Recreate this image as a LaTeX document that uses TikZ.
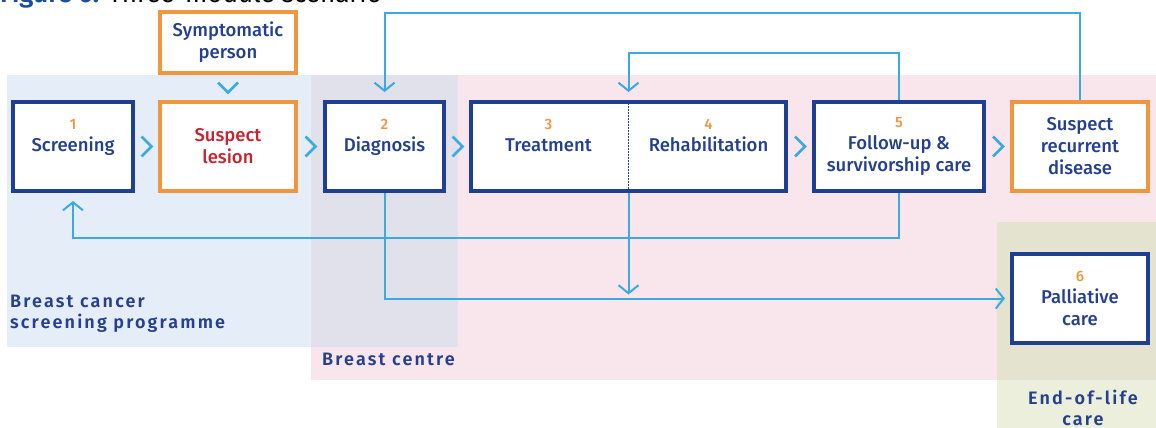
\documentclass[tikz,border=0pt]{standalone}
\usepackage{fontspec}
\setmainfont{Fira Sans}[BoldFont={Fira Sans SemiBold}]
\newfontfamily\medfont{Fira Sans Medium}
\usetikzlibrary{arrows.meta,calc}
\definecolor{navy}{HTML}{24408E}
\definecolor{boxblue}{HTML}{1F3F93}
\definecolor{orng}{HTML}{F0963F}
\definecolor{lesred}{HTML}{C92231}
\definecolor{sky}{HTML}{3BAAE0}
\definecolor{bgblue}{HTML}{E5EEF8}
\definecolor{bgpink}{HTML}{F8E6EC}
\definecolor{bggrey}{HTML}{E0E1EA}
\definecolor{bggreen}{HTML}{EBEFDC}
\definecolor{bgolive}{HTML}{E4E3D0}
\definecolor{titleblue}{HTML}{1B4F9C}
\newcommand\stagenum[1]{{\color{orng}\fontsize{15}{22}\selectfont #1}}
\tikzset{
  stage/.style={draw=boxblue, line width=4pt, fill=white, minimum width=#1, minimum height=89pt,
    inner sep=0pt, align=center, text=navy, font=\medfont\fontsize{18.5}{22}\selectfont},
  alert/.style={stage=#1, draw=orng},
  label text/.style={inner sep=0pt, align=center, text=navy, font=\medfont\fontsize{18.5}{22}\selectfont},
  zone/.style={inner sep=0pt, text=navy, font=\fontsize{18}{21}\selectfont\bfseries\addfontfeature{LetterSpace=12}},
  link/.style={draw=sky, line width=2pt, -{Straight Barb[length=8pt,width=20pt,line width=2pt]}},
  chev/.style={draw=sky, line width=2.5pt}
}
\begin{document}
\begin{tikzpicture}[x=1pt,y=-1pt]
\useasboundingbox (0,0) rectangle (1156,428);
\fill[bgblue] (7,75) rectangle (458,347);
\fill[bgpink] (311,75) rectangle (1156,380);
\fill[bggrey] (311,75) rectangle (458,347);
\fill[bggreen] (997,222) rectangle (1156,428);
\fill[bgolive] (997,222) rectangle (1156,380);
\node[anchor=base west, inner sep=0pt, font=\fontsize{26}{30}\selectfont] (title) at (0,3)
  {{\color{titleblue}\bfseries Figure 6:} Three-module scenario};
\node[alert=136, minimum height=61pt] at (228,42.5) (sym) {Symptomatic\\person};
\node[stage=120] at (73,146.5) (scr) {\stagenum{1}\\Screening\\~};
\node[alert=136, text=lesred] at (228,146.5) (les) {Suspect\\lesion};
\node[stage=119] at (384.5,146.5) (dia) {\stagenum{2}\\Diagnosis\\~};
\node[stage=315] at (628.5,146.5) (trt) {};
\node[label text] at ($(trt.center)+(-80,0)$) (trtl) {\stagenum{3}\\Treatment\\~};
\node[label text] at ($(trt.center)+(80,0)$) (reh) {\stagenum{4}\\Rehabilitation\\~};
\node[stage=170] at (899,146.5) (fol) {\stagenum{5}\\Follow-up \&\\survivorship care};
\node[alert=136] at (1080,146.5) (rec) {Suspect\\recurrent\\disease};
\node[stage=136] at (1080,298.5) (pal) {\stagenum{6}\\Palliative\\care};
\draw[boxblue, line width=1.5pt, dash pattern=on 1.5pt off 1.5pt] (trt.north) -- (trt.south);
\node[zone, anchor=north west, align=left] at (10,295) (zscr) {Breast cancer\\screening programme};
\node[zone, anchor=north west] at (322,353) (zbc) {Breast centre};
\node[zone, align=center] at (1083,408) (zeol) {End-of-life\\care};
\coordinate (hiA) at (0,13);
\coordinate (hiB) at (0,53);
\coordinate (loA) at (0,238);
\foreach \a/\b in {scr/les, les/dia, dia/trt, trt/fol, fol/rec}
  \draw[chev] ($(\a.east)!.5!(\b.west)$) +(-5,-10) -- +(5,0) -- +(-5,10);
\draw[chev] ($(sym.south)!.5!(les.north)$) +(-10,-5) -- +(0,5) -- +(10,-5);
\draw[link, shorten >=8pt] (rec.north) -- (rec.north |- hiA) -| (dia.north);
\draw[link, shorten >=8pt] (fol.north) -- (fol.north |- hiB) -| (trt.north);
\draw[link, shorten >=8pt] (fol.south) -- (fol.south |- loA) -| (scr.south);
\draw[link, shorten >=5pt] (dia.south) |- (pal.west);
\draw[link, shorten >=4pt] (trt.south) -- (trt.south |- pal.west);
\end{tikzpicture}
\end{document}
